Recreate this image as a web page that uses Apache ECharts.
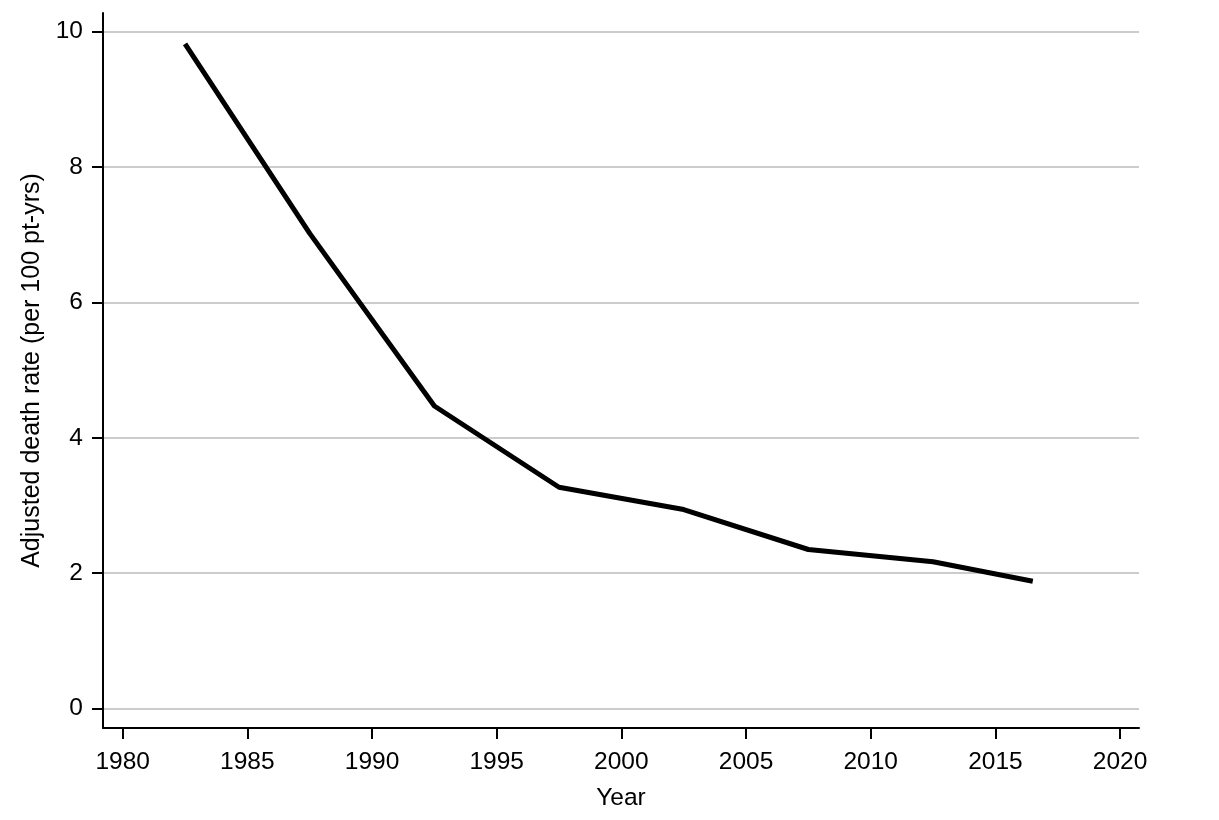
<!DOCTYPE html>
<html>
<head>
<meta charset="utf-8">
<script src="https://cdn.jsdelivr.net/npm/echarts@6/dist/echarts.min.js"></script>
<style>
  html, body { margin: 0; padding: 0; background: #fff; }
  #lineChart { width: 1219px; height: 820px; }
</style>
</head>
<body>
<div id="lineChart"></div>
<script>
// data (mid-points of 5-year periods)
var years = [1982.5, 1987.5, 1992.5, 1997.5, 2002.5, 2007.5, 2012.5, 2016.5];
var deathRate = [9.82, 7.02, 4.47, 3.27, 2.94, 2.35, 2.17, 1.88];
var xTicks = [1980, 1985, 1990, 1995, 2000, 2005, 2010, 2015, 2020];
var yTicks = [0, 2, 4, 6, 8, 10];

var myChart = echarts.init(document.getElementById('lineChart'));
var font = '"Liberation Sans", Arial, Helvetica, sans-serif';

var points = years.map(function (y, i) { return [y, deathRate[i]]; });

var option = {
    animation: false,
    backgroundColor: '#fff',
    textStyle: { fontFamily: font },
    grid: {
        left: 103,
        right: 80,
        top: 13,
        bottom: 92,
        containLabel: false
    },
    xAxis: {
        type: 'value',
        min: 1979.21,
        max: 2020.76,
        name: 'Year',
        nameLocation: 'middle',
        nameGap: 58,
        nameTextStyle: { color: '#000', fontSize: 24.5, fontFamily: font },
        axisLine: { show: true, onZero: false, lineStyle: { color: '#000', width: 2 } },
        axisTick: { show: true, length: 11, customValues: xTicks, lineStyle: { color: '#000', width: 2 } },
        axisLabel: {
            customValues: xTicks,
            margin: 22,
            color: '#000',
            fontSize: 24.5,
            fontFamily: font,
            formatter: function (v) { return String(v); }
        },
        splitLine: { show: false }
    },
    yAxis: {
        type: 'value',
        min: -0.287,
        max: 10.276,
        name: 'Adjusted death rate (per 100 pt-yrs)',
        nameLocation: 'middle',
        nameGap: 58,
        nameTextStyle: { color: '#000', fontSize: 25, fontFamily: font },
        axisLine: { show: true, onZero: false, lineStyle: { color: '#000', width: 2 } },
        axisTick: { show: true, length: 11, customValues: yTicks, lineStyle: { color: '#000', width: 2 } },
        axisLabel: {
            customValues: yTicks,
            margin: 20,
            color: '#000',
            fontSize: 24.5,
            fontFamily: font
        },
        splitLine: {
            show: true,
            lineStyle: { color: '#cccccc', width: 2 }
        }
    },
    series: [
        {
            name: 'Adjusted death rate',
            type: 'line',
            data: points,
            showSymbol: false,
            symbol: 'none',
            smooth: false,
            lineStyle: {
                color: '#000',
                width: 5,
                join: 'round',
                cap: 'butt'
            }
        }
    ]
};

myChart.setOption(option);
</script>
</body>
</html>
